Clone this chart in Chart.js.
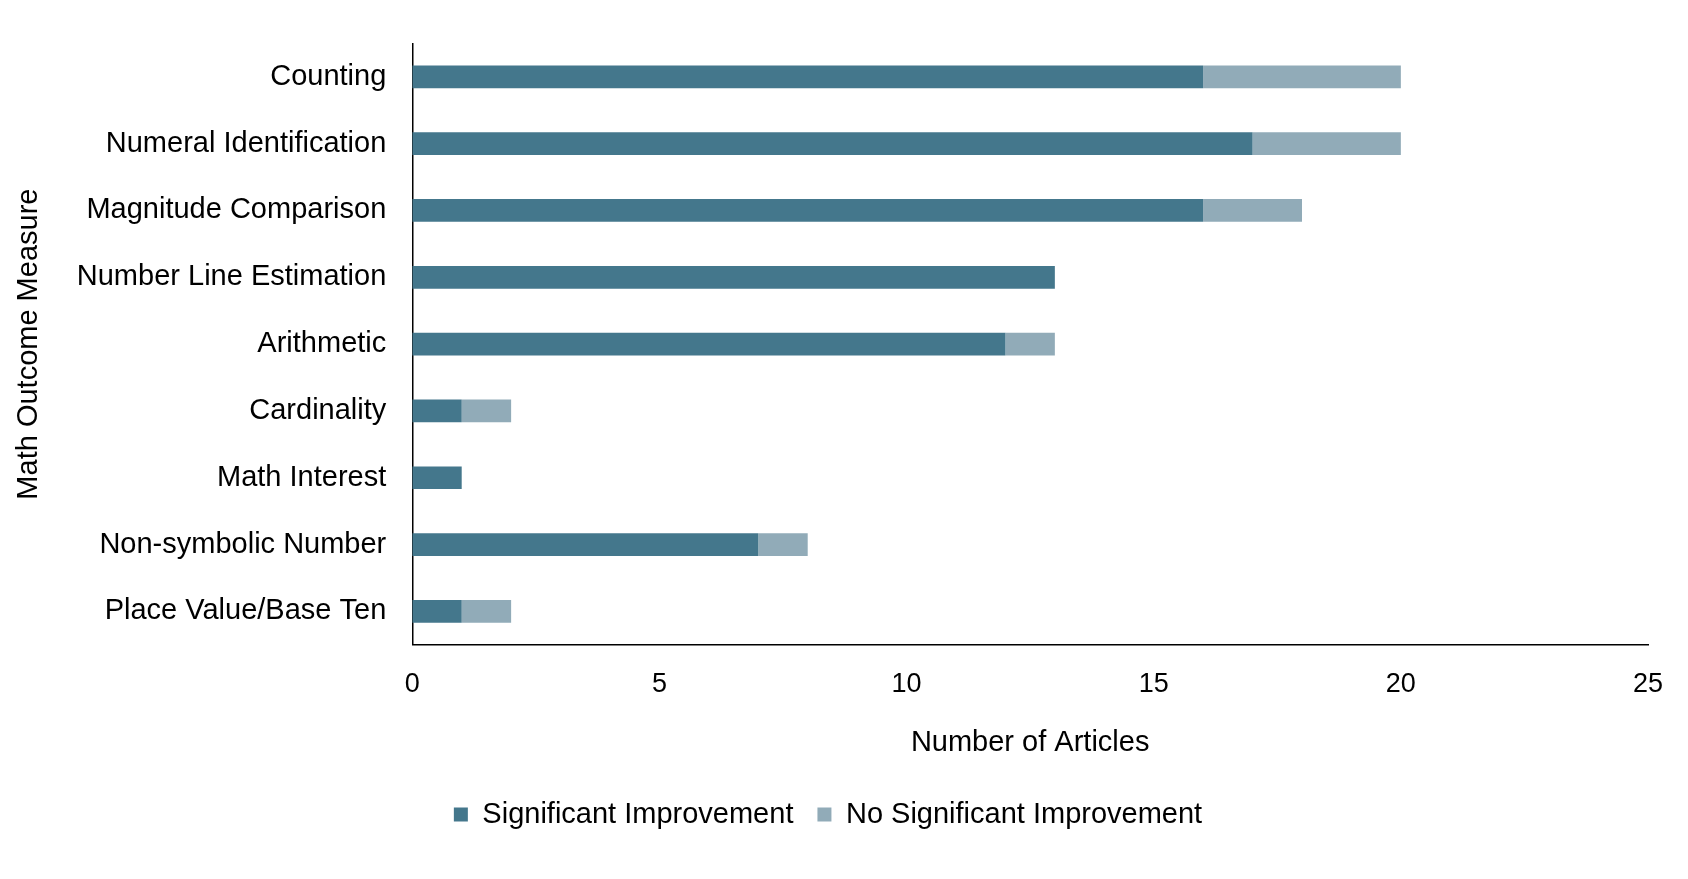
<!DOCTYPE html>
<html>
<head>
<meta charset="utf-8">
<script src="https://cdn.jsdelivr.net/npm/chart.js@4"></script>
<style>
  html, body { margin: 0; padding: 0; background: #fff; }
  #wrap { width: 1688px; height: 879px; }
</style>
</head>
<body>
<div id="wrap"><canvas id="chart"></canvas></div>
<script>
// Outcome measures and article counts
const measures = ['Counting', 'Numeral Identification', 'Magnitude Comparison', 'Number Line Estimation',
  'Arithmetic', 'Cardinality', 'Math Interest', 'Non-symbolic Number', 'Place Value/Base Ten'];
const significant = [16, 17, 16, 13, 12, 1, 1, 7, 1];
const notSignificant = [4, 3, 2, 0, 1, 1, 0, 1, 1];

Chart.defaults.font.family = '"Liberation Sans", Arial, sans-serif';
Chart.defaults.color = '#000';

const ctx = document.getElementById('chart').getContext('2d');
new Chart(ctx, {
  type: 'bar',
  data: {
    labels: measures,
    datasets: [
      { label: 'Significant Improvement', data: significant, backgroundColor: '#44778c', barPercentage: 0.34, categoryPercentage: 1 },
      { label: 'No Significant Improvement', data: notSignificant, backgroundColor: '#91abb8', barPercentage: 0.34, categoryPercentage: 1 }
    ]
  },
  options: {
    indexAxis: 'y',
    responsive: true,
    maintainAspectRatio: false,
    animation: false,
    layout: { padding: { left: 8, right: 40, top: 0, bottom: 40 } },
    plugins: {
      tooltip: { enabled: false },
      legend: {
        position: 'bottom',
        labels: { font: { size: 29 }, boxWidth: 14, boxHeight: 14, padding: 24 }
      }
    },
    scales: {
      x: {
        stacked: true,
        min: 0, max: 25,
        ticks: { stepSize: 5, font: { size: 27 }, padding: 24 },
        grid: { display: false, drawTicks: false },
        border: { color: '#000', width: 1.5 },
        title: { display: true, text: 'Number of Articles', font: { size: 29 }, padding: { top: 0, bottom: 16 } }
      },
      y: {
        stacked: true,
        ticks: { font: { size: 29 }, padding: 26 },
        grid: { display: false, drawTicks: false },
        border: { color: '#000', width: 1.5 },
        title: { display: true, text: 'Math Outcome Measure', font: { size: 29 } }
      }
    }
  }
});
</script>
</body>
</html>
